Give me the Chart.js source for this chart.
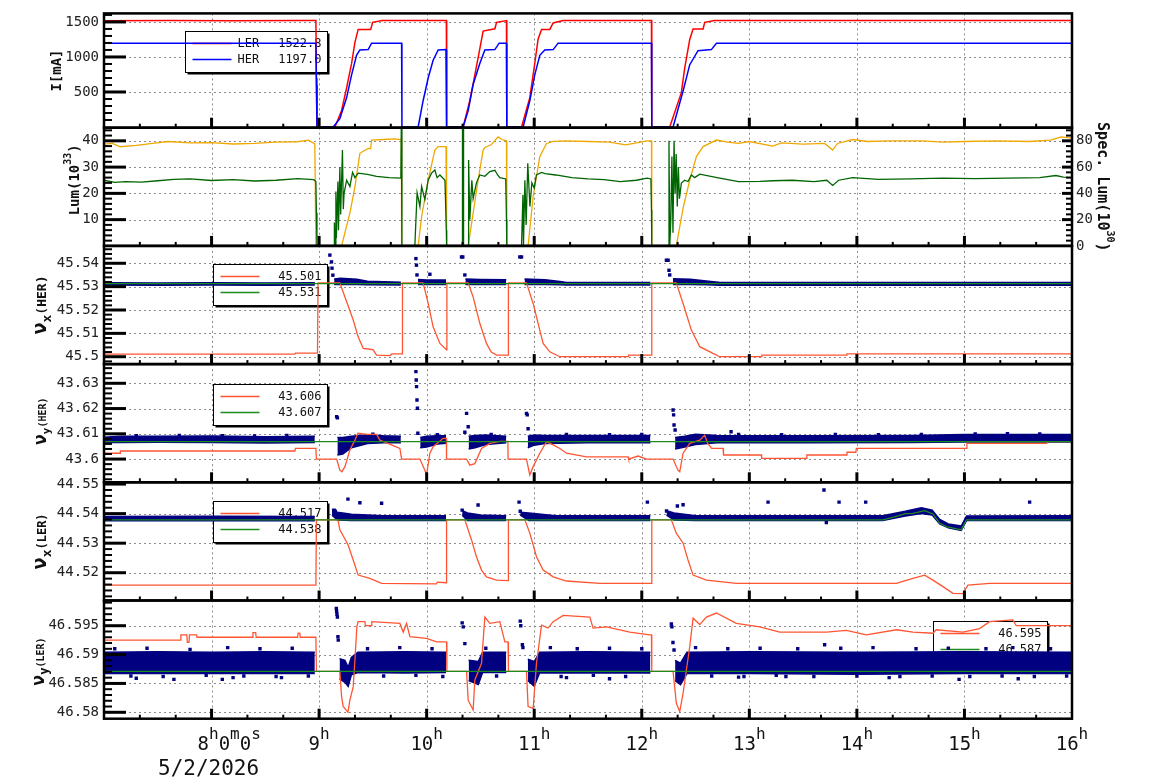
<!DOCTYPE html>
<html>
<head>
<meta charset="utf-8">
<title>Beam current, luminosity and tunes</title>
<script src="https://cdn.jsdelivr.net/npm/chart.js@4.4.1/dist/chart.umd.min.js"></script>
<style>
  html, body { margin: 0; padding: 0; background: #fff; }
  #page { position: relative; width: 1154px; height: 782px; overflow: hidden; }
  #page canvas { position: absolute; left: 0; top: 0; }
</style>
</head>
<body>
<div id="page"></div>
<script>
// ---------- data (time in hours of 5/2/2026) ----------
const spanT = [7, 16];
const timeTickLabels = ['8h0m0s', '9h', '10h', '11h', '12h', '13h', '14h', '15h', '16h'];
const timeTickHours = [8, 9, 10, 11, 12, 13, 14, 15, 16];
const dateLabel = '5/2/2026';

// beam current [mA]
const curTicks = [500, 1000, 1500];
const curLegend = ['1522.8', '1197.0'];
const lerT = [7.0, 7.6, 8.2, 8.8, 8.97, 8.975, 8.98, 9.147, 9.209, 9.256, 9.302, 9.333, 9.363, 9.479, 9.49, 9.497, 9.587, 10.183, 10.186, 10.339, 10.401, 10.448, 10.494, 10.525, 10.634, 10.650, 10.742, 10.745, 10.882, 10.959, 11.005, 11.036, 11.068, 11.145, 11.176, 11.269, 12.090, 12.093, 12.260, 12.368, 12.399, 12.446, 12.477, 12.570, 12.585, 12.679, 16.0];
const lerI = [1516, 1520, 1518, 1522, 1520, 700, 0, 0, 236, 560, 907, 1208, 1393, 1393, 1450, 1495, 1520, 1520, 0, 0, 375, 745, 1115, 1370, 1403, 1495, 1520, 0, 0, 420, 907, 1254, 1393, 1393, 1486, 1520, 1520, 0, 0, 490, 840, 1250, 1400, 1400, 1495, 1520, 1522];
const herT = [7.0, 8.97, 8.975, 8.98, 9.131, 9.193, 9.256, 9.302, 9.348, 9.379, 9.456, 9.488, 9.767, 9.770, 9.921, 9.967, 10.014, 10.060, 10.107, 10.180, 10.185, 10.339, 10.386, 10.432, 10.494, 10.541, 10.634, 10.674, 10.742, 10.745, 10.897, 10.959, 11.005, 11.052, 11.098, 11.176, 11.222, 12.090, 12.093, 12.291, 12.384, 12.446, 12.523, 12.647, 12.694, 16.0];
const herI = [1197, 1197, 600, 0, 0, 120, 420, 745, 1024, 1101, 1105, 1197, 1197, 0, 0, 375, 699, 954, 1101, 1105, 0, 0, 236, 607, 907, 1101, 1105, 1197, 1197, 0, 0, 375, 745, 1024, 1101, 1105, 1197, 1197, 0, 0, 515, 890, 1090, 1105, 1197, 1197];

// luminosity (10^33, left) and specific luminosity (10^30, right)
const lumTicks = [10, 20, 30, 40];
const specTicks = [0, 20, 40, 60, 80];
const lumT = [7.0, 7.1, 7.2, 7.35, 7.5, 7.65, 7.8, 8.0, 8.2, 8.4, 8.6, 8.8, 8.95, 8.97, 8.975, 8.98, 9.139, 9.142, 9.148, 9.156, 9.16, 9.175, 9.18, 9.193, 9.2, 9.217, 9.225, 9.232, 9.256, 9.286, 9.311, 9.333, 9.363, 9.45, 9.534, 9.65, 9.76, 9.765, 9.77, 9.89, 9.911, 9.937, 9.953, 9.983, 10.014, 10.045, 10.076, 10.097, 10.123, 10.170, 10.183, 10.186, 10.330, 10.333, 10.340, 10.343, 10.386, 10.39, 10.401, 10.42, 10.432, 10.463, 10.494, 10.541, 10.587, 10.634, 10.66, 10.68, 10.735, 10.742, 10.745, 10.882, 10.895, 10.90, 10.913, 10.925, 10.94, 10.96, 10.978, 11.0, 11.02, 11.068, 11.1, 11.2, 11.35, 11.5, 11.65, 11.8, 11.95, 12.05, 12.085, 12.09, 12.093, 12.25, 12.253, 12.26, 12.27, 12.28, 12.29, 12.30, 12.31, 12.32, 12.33, 12.34, 12.35, 12.368, 12.399, 12.43, 12.461, 12.492, 12.539, 12.7, 12.9, 13.1, 13.217, 13.4, 13.6, 13.72, 13.775, 13.83, 13.961, 14.2, 14.5, 14.8, 15.1, 15.4, 15.7, 15.85, 15.92, 16.0];
const lumV = [25.0, 24.2, 24.5, 24.3, 24.8, 25.3, 25.5, 24.9, 25.2, 24.7, 25.0, 25.6, 25.2, 24.5, 12.6, 0, 0, 8.9, 0, 20.7, 3, 24.5, 6, 30, 12, 36.5, 14, 20, 25, 22.6, 28, 26, 27.7, 27.2, 26.5, 26, 25.8, 50, 0, 0, 20.2, 15, 22.6, 17.6, 25, 27.7, 28.9, 26, 27, 25, 6, 0, 0, 50, 50, 0, 0, 32.7, 10, 25, 18, 24, 27, 26.5, 28.3, 28.8, 27, 26, 25.5, 10, 0, 0, 19.5, 0, 25, 8, 31.5, 15, 24, 22, 27, 28, 27.5, 27, 26, 25.5, 25.2, 24.5, 25, 25.8, 25.5, 13.8, 0, 0, 40, 0, 10, 34, 5, 40, 20, 35, 15, 30, 18, 23.9, 25, 24.5, 27, 26, 27.3, 26, 24.5, 24.6, 24.8, 25, 24.5, 25, 23, 25, 26, 25.3, 25.5, 25.8, 25.6, 25.8, 26, 26.8, 26.2, 26];
const specT = [7.0, 7.08, 7.15, 7.3, 7.45, 7.6, 7.8, 8.0, 8.2, 8.4, 8.6, 8.8, 8.9, 8.96, 8.97, 9.209, 9.286, 9.333, 9.379, 9.456, 9.479, 9.488, 9.6, 9.7, 9.765, 9.767, 9.921, 9.953, 10.014, 10.076, 10.107, 10.18, 10.185, 10.386, 10.432, 10.478, 10.525, 10.541, 10.6, 10.664, 10.70, 10.742, 10.745, 10.943, 10.990, 11.052, 11.114, 11.176, 11.3, 11.5, 11.7, 11.85, 11.95, 12.05, 12.09, 12.093, 12.321, 12.384, 12.446, 12.508, 12.570, 12.694, 12.8, 12.9, 13.0, 13.217, 13.3, 13.5, 13.7, 13.775, 13.82, 13.961, 14.1, 14.3, 14.6, 14.8, 15.0, 15.3, 15.6, 15.8, 15.9, 16.0];
const specV = [77.5, 78, 75.5, 76.5, 78, 79.5, 78.5, 78.6, 77.6, 78, 79, 79.3, 80.5, 77.6, 0, 0, 25, 45, 70.5, 74.3, 74, 80.6, 81, 81.5, 81, 0, 0, 22.4, 50, 73, 75.6, 75.6, 0, 0, 25, 50, 73, 75, 77, 83, 81, 80, 0, 0, 37.6, 68, 78, 79.6, 80, 79.5, 79, 77, 78.5, 80, 80, 0, 0, 28.8, 50, 68, 75.6, 80.6, 79, 78, 79.5, 76, 78.5, 77.5, 78, 73, 78, 81, 79.5, 80, 80, 79, 79.5, 80, 79.5, 80.5, 83, 82];

// horizontal tune HER
const hxTicks = [45.5, 45.51, 45.52, 45.53, 45.54];
const hxLegend = ['45.501', '45.531'];
const hxRef = [45.5313, 45.5313];
const hxT = [7.0, 8.775, 8.78, 8.985, 8.99, 9.193, 9.256, 9.317, 9.363, 9.41, 9.472, 9.503, 9.534, 9.658, 9.677, 9.772, 9.775, 9.967, 10.014, 10.060, 10.123, 10.185, 10.188, 10.386, 10.432, 10.494, 10.556, 10.60, 10.650, 10.757, 10.76, 10.928, 10.990, 11.036, 11.083, 11.145, 11.238, 11.873, 11.878, 12.090, 12.093, 12.321, 12.384, 12.461, 12.539, 12.662, 12.725, 13.112, 13.117, 13.903, 13.908, 16.0];
const hxV = [45.5011, 45.5011, 45.5015, 45.5015, 45.5316, 45.5316, 45.5235, 45.5157, 45.5085, 45.5036, 45.5032, 45.5029, 45.5007, 45.5005, 45.5012, 45.5012, 45.5316, 45.5316, 45.5228, 45.5128, 45.5057, 45.5029, 45.5316, 45.5316, 45.5256, 45.5143, 45.5057, 45.502, 45.5007, 45.5007, 45.5316, 45.5316, 45.5228, 45.5143, 45.5057, 45.5021, 45.5, 45.5, 45.5007, 45.5007, 45.5316, 45.5316, 45.5228, 45.5114, 45.5043, 45.5014, 45.5, 45.5, 45.5007, 45.5007, 45.5012, 45.5012];
const hxBandT = [7.0, 7.5, 8.0, 8.5, 8.96, 8.97, 9.14, 9.2, 9.35, 9.45, 9.76, 9.77, 9.92, 10.0, 10.18, 10.19, 10.36, 10.5, 10.74, 10.75, 10.91, 11.1, 11.24, 11.3, 12.08, 12.09, 12.29, 12.45, 12.6, 12.73, 13.5, 14.5, 16.0];
const hxBandLo = [45.5307, 45.5306, 45.5307, 45.5306, 45.5307, null, 45.5309, 45.5309, 45.5309, 45.5308, 45.5307, null, 45.5309, 45.5309, 45.5309, null, 45.5309, 45.5309, 45.5309, null, 45.5309, 45.5309, 45.5308, 45.5307, 45.5307, null, 45.5309, 45.5309, 45.5308, 45.5306, 45.5306, 45.5306, 45.5306];
const hxBandHi = [45.5317, 45.5316, 45.5317, 45.5316, 45.5317, null, 45.5333, 45.5336, 45.5332, 45.5323, 45.5319, null, 45.5331, 45.5328, 45.5328, null, 45.5333, 45.5331, 45.533, null, 45.5333, 45.533, 45.5322, 45.5318, 45.5318, null, 45.5334, 45.5332, 45.5324, 45.5318, 45.5318, 45.5318, 45.5318];
const hxOutT = [9.100, 9.115, 9.120, 9.128, 9.900, 9.905, 9.910, 10.030, 10.324, 10.336, 10.355, 10.866, 10.882, 12.229, 12.245, 12.253, 12.260];
const hxOutV = [45.5435, 45.5406, 45.5379, 45.5349, 45.542, 45.5392, 45.535, 45.5353, 45.5427, 45.5427, 45.535, 45.5427, 45.5427, 45.5413, 45.5413, 45.537, 45.535];

// vertical tune HER
const hyTicks = [43.6, 43.61, 43.62, 43.63];
const hyLegend = ['43.606', '43.607'];
const hyRef = [43.6069, 43.6069];
const hyT = [7.0, 7.149, 7.152, 8.775, 8.78, 8.97, 8.975, 9.163, 9.193, 9.212, 9.240, 9.286, 9.333, 9.361, 9.45, 9.534, 9.565, 9.65, 9.751, 9.767, 9.937, 9.983, 9.999, 10.030, 10.060, 10.153, 10.183, 10.185, 10.371, 10.401, 10.448, 10.510, 10.587, 10.680, 10.755, 10.757, 10.928, 10.959, 10.990, 11.052, 11.114, 11.176, 11.238, 11.300, 11.486, 11.873, 11.878, 11.966, 12.043, 12.291, 12.336, 12.353, 12.384, 12.446, 12.539, 12.585, 12.613, 12.650, 12.756, 12.76, 13.112, 13.115, 13.531, 13.535, 13.903, 13.908, 13.99, 13.995, 15.018, 15.023, 15.761, 15.766, 16.0];
const hyV = [43.6023, 43.6023, 43.6032, 43.6032, 43.6042, 43.6042, 43.6, 43.6, 43.5956, 43.595, 43.597, 43.6036, 43.6075, 43.6102, 43.6098, 43.6098, 43.6075, 43.606, 43.6042, 43.6, 43.6, 43.5956, 43.5937, 43.6023, 43.6049, 43.6082, 43.6082, 43.6, 43.6, 43.5976, 43.5982, 43.6042, 43.6062, 43.607, 43.607, 43.6, 43.6, 43.5937, 43.597, 43.6023, 43.6069, 43.6056, 43.6042, 43.6023, 43.6009, 43.6009, 43.6, 43.6012, 43.6, 43.6, 43.5956, 43.595, 43.6023, 43.6062, 43.6075, 43.6095, 43.6062, 43.6042, 43.6042, 43.6016, 43.6016, 43.6003, 43.6003, 43.6016, 43.6016, 43.6027, 43.6027, 43.6042, 43.6042, 43.6062, 43.6062, 43.6069, 43.6069];
const hyBandT = [7.0, 7.15, 7.5, 8.0, 8.5, 8.96, 8.97, 9.17, 9.22, 9.3, 9.45, 9.6, 9.76, 9.77, 9.94, 10.0, 10.1, 10.18, 10.19, 10.39, 10.45, 10.55, 10.74, 10.75, 10.94, 11.0, 11.1, 11.5, 12.08, 12.09, 12.31, 12.4, 12.5, 12.7, 13.5, 14.5, 15.0, 16.0];
const hyBandLo = [43.6066, 43.6066, 43.6067, 43.6066, 43.6064, 43.6066, null, 43.6016, 43.602, 43.6045, 43.6062, 43.6065, 43.6065, null, 43.6045, 43.6048, 43.606, 43.6063, null, 43.604, 43.6045, 43.6058, 43.6065, null, 43.6045, 43.6055, 43.6062, 43.6065, 43.6065, null, 43.604, 43.6048, 43.6058, 43.6065, 43.6065, 43.6066, 43.6068, 43.6068];
const hyBandHi = [43.6086, 43.609, 43.609, 43.6091, 43.6088, 43.609, null, 43.6085, 43.6085, 43.609, 43.6096, 43.6092, 43.609, null, 43.6085, 43.609, 43.6092, 43.6092, null, 43.609, 43.6093, 43.6095, 43.609, null, 43.609, 43.6095, 43.6093, 43.6093, 43.6093, null, 43.6085, 43.609, 43.6098, 43.6093, 43.6092, 43.6093, 43.6097, 43.6097];
const hyOutT = [9.163, 9.170, 9.900, 9.903, 9.906, 9.910, 9.914, 9.918, 10.355, 10.371, 10.386, 10.928, 10.935, 10.943, 12.291, 12.296, 12.300, 12.310, 12.830];
const hyOutV = [43.6168, 43.6163, 43.6346, 43.6313, 43.6287, 43.6234, 43.6201, 43.6102, 43.6106, 43.6181, 43.6128, 43.6181, 43.6175, 43.612, 43.6194, 43.6175, 43.6135, 43.6115, 43.6108];
const hyEdgeT = [7.3, 7.7, 8.1, 8.4, 8.7, 9.5, 10.1, 10.6, 11.3, 11.7, 12.0, 12.9, 13.3, 13.8, 14.2, 14.6, 15.1, 15.4, 15.7];
const hyEdgeV = [43.6093, 43.6094, 43.6093, 43.6092, 43.6094, 43.6098, 43.6096, 43.6097, 43.6097, 43.6096, 43.6097, 43.6097, 43.6096, 43.6097, 43.6096, 43.6097, 43.6099, 43.61, 43.6099];

// horizontal tune LER
const lxTicks = [44.52, 44.53, 44.54, 44.55];
const lxLegend = ['44.517', '44.538'];
const lxT = [7.0, 8.97, 8.975, 9.175, 9.193, 9.27, 9.317, 9.363, 9.472, 9.581, 10.09, 10.10, 10.18, 10.185, 10.355, 10.417, 10.463, 10.510, 10.556, 10.650, 10.757, 10.76, 10.913, 10.959, 11.021, 11.083, 11.176, 11.300, 11.610, 12.090, 12.093, 12.275, 12.321, 12.384, 12.430, 12.477, 12.601, 12.879, 14.367, 14.521, 14.630, 14.707, 14.800, 14.893, 14.986, 15.032, 15.234, 16.0];
const lxV = [44.5158, 44.5158, 44.5379, 44.5379, 44.5345, 44.5294, 44.5243, 44.5192, 44.5181, 44.5164, 44.5162, 44.5168, 44.5166, 44.5379, 44.5379, 44.5311, 44.5254, 44.5209, 44.5186, 44.5175, 44.5173, 44.5379, 44.5379, 44.5334, 44.5254, 44.5209, 44.5186, 44.5172, 44.5164, 44.5164, 44.5379, 44.5379, 44.5334, 44.53, 44.5243, 44.5192, 44.5175, 44.5164, 44.5164, 44.5181, 44.5192, 44.5175, 44.5153, 44.513, 44.5129, 44.5158, 44.5164, 44.5164];
const lxRefT = [7.0, 14.243, 14.35, 14.45, 14.521, 14.63, 14.707, 14.769, 14.831, 14.971, 15.018, 16.0];
const lxRef = [44.5379, 44.5379, 44.5389, 44.54, 44.5401, 44.541, 44.5399, 44.5368, 44.5356, 44.5345, 44.5379, 44.5379];
const lxBandT = [7.0, 8.0, 8.96, 8.97, 9.12, 9.17, 9.3, 9.6, 10.18, 10.19, 10.33, 10.38, 10.5, 10.74, 10.75, 10.87, 10.95, 11.2, 12.08, 12.09, 12.23, 12.3, 12.5, 14.24, 14.45, 14.6, 14.7, 14.77, 14.85, 14.97, 15.02, 16.0];
const lxBandLo = [44.5376, 44.5376, 44.5376, null, 44.5395, 44.5378, 44.5377, 44.5377, 44.5377, null, 44.5395, 44.5377, 44.5377, 44.5377, null, 44.5395, 44.5377, 44.5377, 44.5377, null, 44.5395, 44.5378, 44.5377, 44.5377, 44.5392, 44.54, 44.5395, 44.5365, 44.5352, 44.5343, 44.5377, 44.5377];
const lxBandHi = [44.539, 44.5391, 44.539, null, 44.5415, 44.5405, 44.5398, 44.5393, 44.5393, null, 44.541, 44.5402, 44.5395, 44.5393, null, 44.5405, 44.5402, 44.5393, 44.5393, null, 44.541, 44.5402, 44.5393, 44.5393, 44.5408, 44.542, 44.5412, 44.538, 44.5365, 44.5358, 44.5392, 44.5393];
const lxOutT = [9.140, 9.150, 9.268, 9.379, 9.581, 10.330, 10.478, 10.859, 10.870, 12.052, 12.230, 12.331, 12.384, 13.174, 13.694, 13.716, 13.834, 14.082, 15.606];
const lxOutV = [44.5412, 44.5408, 44.5449, 44.5437, 44.5435, 44.5412, 44.5429, 44.5439, 44.5408, 44.5439, 44.5409, 44.5426, 44.543, 44.5439, 44.548, 44.537, 44.5439, 44.5439, 44.5439];

// vertical tune LER
const lyTicks = [46.58, 46.585, 46.59, 46.595];
const lyLegend = ['46.595', '46.587'];
const lyRef = [46.5871, 46.5871];
const lyT = [7.0, 7.71, 7.715, 7.77, 7.775, 7.79, 7.795, 7.86, 7.865, 8.38, 8.385, 8.41, 8.415, 8.80, 8.805, 8.82, 8.825, 8.97, 8.975, 9.193, 9.209, 9.224, 9.268, 9.286, 9.317, 9.333, 9.351, 9.363, 9.426, 9.43, 9.488, 9.49, 9.751, 9.782, 9.813, 9.844, 9.999, 10.092, 10.185, 10.188, 10.371, 10.386, 10.432, 10.448, 10.510, 10.541, 10.587, 10.680, 10.727, 10.757, 10.76, 10.928, 10.943, 10.990, 11.021, 11.068, 11.129, 11.176, 11.269, 11.517, 11.547, 11.672, 11.888, 12.074, 12.090, 12.093, 12.291, 12.321, 12.353, 12.384, 12.446, 12.477, 12.539, 12.601, 12.694, 12.879, 13.097, 13.283, 13.716, 13.903, 14.088, 14.367, 14.521, 14.707, 14.738, 14.986, 15.141, 15.234, 15.450, 15.482, 16.0];
const lyV = [46.5925, 46.5925, 46.5934, 46.5934, 46.5921, 46.5921, 46.5934, 46.5934, 46.593, 46.593, 46.5938, 46.5938, 46.593, 46.593, 46.5937, 46.5937, 46.593, 46.593, 46.5871, 46.5871, 46.5827, 46.581, 46.58, 46.5821, 46.5844, 46.5891, 46.5948, 46.5957, 46.5957, 46.595, 46.595, 46.5957, 46.5954, 46.5939, 46.5954, 46.5931, 46.5928, 46.5922, 46.5922, 46.5871, 46.5871, 46.5821, 46.5804, 46.5856, 46.5885, 46.5965, 46.5954, 46.5957, 46.5922, 46.5922, 46.5871, 46.5871, 46.581, 46.5807, 46.5885, 46.5951, 46.5946, 46.5957, 46.5968, 46.5965, 46.5946, 46.5948, 46.5939, 46.5934, 46.5934, 46.5871, 46.5871, 46.5816, 46.5801, 46.5833, 46.5914, 46.5963, 46.5952, 46.5965, 46.5972, 46.5954, 46.5948, 46.5939, 46.5939, 46.5942, 46.5934, 46.5943, 46.5939, 46.5937, 46.5943, 46.5939, 46.5945, 46.5957, 46.596, 46.595, 46.595];
const lyBandT = [7.0, 7.5, 8.0, 8.5, 8.96, 8.97, 9.19, 9.24, 9.27, 9.3, 9.36, 9.8, 10.18, 10.19, 10.39, 10.48, 10.52, 10.74, 10.75, 10.94, 11.0, 11.05, 11.5, 12.08, 12.09, 12.31, 12.36, 12.42, 13.0, 14.0, 15.0, 16.0];
const lyBandLo = [46.5867, 46.5867, 46.5867, 46.5867, 46.5867, null, 46.5858, 46.5852, 46.5845, 46.5865, 46.5869, 46.5868, 46.5869, null, 46.5855, 46.5848, 46.5869, 46.5869, null, 46.5855, 46.5845, 46.5868, 46.5868, 46.5868, null, 46.5855, 46.5848, 46.5867, 46.5867, 46.5866, 46.5867, 46.5867];
const lyBandHi = [46.5904, 46.5905, 46.5904, 46.5905, 46.5904, null, 46.5893, 46.589, 46.5878, 46.5895, 46.5904, 46.5905, 46.5904, null, 46.589, 46.5888, 46.5904, 46.5904, null, 46.5892, 46.5888, 46.5904, 46.5905, 46.5904, null, 46.589, 46.5885, 46.5904, 46.5905, 46.5904, 46.5905, 46.5904];
const lyOutT = [9.160, 9.163, 9.166, 9.170, 9.175, 9.178, 10.330, 10.340, 10.355, 10.870, 10.875, 10.890, 10.895, 12.275, 12.280, 12.290, 12.300, 7.300, 7.650, 8.100, 8.200, 8.650, 11.300, 11.700, 12.900, 13.340, 13.700, 14.300, 14.950, 15.500];
const lyOutV = [46.598, 46.5975, 46.597, 46.5965, 46.5931, 46.5925, 46.5955, 46.5948, 46.5919, 46.5958, 46.595, 46.5917, 46.5912, 46.5953, 46.5948, 46.5921, 46.5908, 46.5859, 46.5857, 46.5857, 46.586, 46.586, 46.586, 46.5858, 46.5861, 46.5862, 46.5917, 46.586, 46.5857, 46.5858];
const lyEdgeT = [7.1, 7.25, 7.4, 7.55, 7.8, 7.95, 8.15, 8.3, 8.45, 8.6, 8.75, 8.9, 9.45, 9.6, 9.75, 9.9, 10.05, 10.15, 10.55, 10.65, 11.15, 11.25, 11.4, 11.55, 11.7, 11.85, 12.0, 12.5, 12.65, 12.8, 12.95, 13.1, 13.25, 13.45, 13.6, 13.85, 14.0, 14.15, 14.4, 14.55, 14.7, 14.85, 15.05, 15.2, 15.35, 15.45, 15.65, 15.8, 15.95];
const lyEdgeV = [46.591, 46.5863, 46.5911, 46.5862, 46.5909, 46.5864, 46.5912, 46.5863, 46.591, 46.5862, 46.5911, 46.5863, 46.591, 46.5863, 46.5912, 46.5864, 46.591, 46.5862, 46.5911, 46.5863, 46.5912, 46.5862, 46.591, 46.5864, 46.5911, 46.5862, 46.591, 46.5912, 46.5863, 46.591, 46.5862, 46.5911, 46.5864, 46.591, 46.5862, 46.5911, 46.5863, 46.5912, 46.5862, 46.591, 46.5863, 46.5911, 46.5862, 46.591, 46.5863, 46.5912, 46.5862, 46.591, 46.5863];

// ---------- styling / layout ----------
const MONO = '"DejaVu Sans Mono", "Liberation Mono", monospace';
const NAVY = '#000080', TOMATO = '#ff5533', TUNE_GREEN = '#1c8c1c';
const W = 1154, H = 782, TOP = 9.5, PANEL_H = 118.2, PLOT_L = 104, PLOT_R = 1072;

Chart.defaults.font.family = MONO;

const pts = (T, V) => T.map((t, i) => ({ x: t, y: V[i] }));
function lineDs(T, V, color, width, extra) {
  return Object.assign({
    data: pts(T, V), borderColor: color, backgroundColor: color, borderWidth: width,
    pointRadius: 0, fill: false, tension: 0, spanGaps: false, clip: 0
  }, extra || {});
}
function bandDs(T, lo, hi) {
  return [lineDs(T, hi, NAVY, 1.5, { fill: '+1' }), lineDs(T, lo, NAVY, 1.5)];
}
function dotDs(T, V) {
  return { data: pts(T, V), showLine: false, pointStyle: 'rect', pointRadius: 2.4,
    pointBackgroundColor: NAVY, pointBorderWidth: 0, clip: 2 };
}
const b = s => 'bold ' + s + 'px ' + MONO;

const panels = [
  { min: -10, max: 1622, ticks: curTicks, minor: 100,
    title: { cx: 56, dy: 0, parts: [['I[mA]', b(14), 5]] },
    datasets: [lineDs(herT, herI, '#0000ff', 1.5), lineDs(lerT, lerI, '#ff0000', 1.5)],
    legend: { dx: 81, dy: 18, w: 142, items: [['#ff0000', 'LER', curLegend[0]], ['#0000ff', 'HER', curLegend[1]]] } },
  { min: 0, max: 45, ticks: lumTicks, minor: 2,
    title: { cx: 74, dy: -7, parts: [['Lum(10', b(14), 5], ['33', b(10), -3], [')', b(14), 5]] },
    right: { min: 0, max: 90, ticks: specTicks, minor: 4,
             title: { cx: 1103, dy: 0, parts: [['Spec. Lum(10', b(15), 5], ['30', b(10), -4], [')', b(15), 5]] } },
    datasets: [lineDs(lumT, lumV, '#006400', 1.3, { yAxisID: 'y' }), lineDs(specT, specV, '#f0a800', 1.3, { yAxisID: 'y1' })] },
  { min: 45.49684, max: 45.54744, ticks: hxTicks, minor: 0.002,
    title: { cx: 41, dy: 0, parts: [['ν', b(20), 5], ['x', b(13), 10], ['(HER)', b(13), 5]] },
    datasets: [lineDs(spanT, hxRef, TUNE_GREEN, 1.3), lineDs(hxT, hxV, TOMATO, 1.3), ...bandDs(hxBandT, hxBandLo, hxBandHi), dotDs(hxOutT, hxOutV)],
    legend: { dx: 109, dy: 18, w: 114, items: [[TOMATO, '', hxLegend[0]], [TUNE_GREEN, '', hxLegend[1]]] } },
  { min: 43.5908, max: 43.6376, ticks: hyTicks, minor: 0.002,
    title: { cx: 41, dy: -2, parts: [['ν', b(18), 5], ['y', b(11), 9], ['(HER)', b(10), 5]] },
    datasets: [lineDs(spanT, hyRef, TUNE_GREEN, 1.3), lineDs(hyT, hyV, TOMATO, 1.3), ...bandDs(hyBandT, hyBandLo, hyBandHi), dotDs(hyOutT, hyOutV), dotDs(hyEdgeT, hyEdgeV)],
    legend: { dx: 109, dy: 20, w: 114, items: [[TOMATO, '', hyLegend[0]], [TUNE_GREEN, '', hyLegend[1]]] } },
  { min: 44.5106, max: 44.5506, ticks: lxTicks, minor: 0.002,
    title: { cx: 41, dy: 0, parts: [['ν', b(20), 5], ['x', b(13), 10], ['(LER)', b(12), 5]] },
    datasets: [lineDs(lxRefT, lxRef, TUNE_GREEN, 1.3), lineDs(lxT, lxV, TOMATO, 1.3), ...bandDs(lxBandT, lxBandLo, lxBandHi), dotDs(lxOutT, lxOutV)],
    legend: { dx: 109, dy: 19, w: 114, items: [[TOMATO, '', lxLegend[0]], [TUNE_GREEN, '', lxLegend[1]]] } },
  { min: 46.57889, max: 46.59937, ticks: lyTicks, minor: 0.001,
    title: { cx: 39, dy: 2, parts: [['ν', b(18), 5], ['y', b(12), 9], ['(LER)', b(10), 5]] },
    datasets: [lineDs(spanT, lyRef, TUNE_GREEN, 1.3), lineDs(lyT, lyV, TOMATO, 1.3), ...bandDs(lyBandT, lyBandLo, lyBandHi), dotDs(lyOutT, lyOutV), dotDs(lyEdgeT, lyEdgeV)],
    legend: { dx: 829, dy: 20, w: 114, items: [[TOMATO, '', lyLegend[0]], [TUNE_GREEN, '', lyLegend[1]]] } }
];

// ---------- drawing helpers ----------
function drawRotated(ctx, parts, cx, cy, angle) {
  ctx.save();
  ctx.translate(cx, cy); ctx.rotate(angle);
  ctx.fillStyle = '#111'; ctx.textAlign = 'left'; ctx.textBaseline = 'alphabetic';
  let total = 0;
  parts.forEach(p => { ctx.font = p[1]; total += ctx.measureText(p[0]).width; });
  let x = -total / 2;
  parts.forEach(p => { ctx.font = p[1]; ctx.fillText(p[0], x, p[2]); x += ctx.measureText(p[0]).width; });
  ctx.restore();
}

function drawLegend(ctx, a, lg) {
  const x = Math.round(a.left + lg.dx) + 0.5, y = Math.round(a.top + lg.dy) + 0.5, h = 41;
  ctx.save();
  ctx.fillStyle = '#000'; ctx.fillRect(x + 2, y + 2, lg.w, h);
  ctx.fillStyle = '#fff'; ctx.fillRect(x, y, lg.w, h);
  ctx.strokeStyle = '#000'; ctx.lineWidth = 1; ctx.strokeRect(x, y, lg.w, h);
  ctx.font = '12px ' + MONO; ctx.textBaseline = 'middle';
  lg.items.forEach((it, k) => {
    const ly = y + 12 + k * 16;
    ctx.strokeStyle = it[0]; ctx.lineWidth = 1.3;
    ctx.beginPath(); ctx.moveTo(x + 7, ly); ctx.lineTo(x + 46, ly); ctx.stroke();
    ctx.fillStyle = '#111';
    if (it[1]) { ctx.textAlign = 'left'; ctx.fillText(it[1], x + 52, ly); }
    ctx.textAlign = 'right'; ctx.fillText(it[2], x + lg.w - 6, ly);
  });
  ctx.restore();
}

function yTickMarks(ctx, s, majors, minor, x0, dir, lenMaj, lenMin, a) {
  const k0 = Math.ceil(s.min / minor - 1e-6), k1 = Math.floor(s.max / minor + 1e-6);
  for (let k = k0; k <= k1; k++) {
    const v = k * minor;
    const major = majors.some(m => Math.abs(m - v) < minor / 10);
    const py = s.getPixelForValue(v);
    if (py < a.top + 1 || py > a.bottom - 1) continue;
    ctx.lineWidth = major ? 3 : 2;
    ctx.beginPath(); ctx.moveTo(x0, py); ctx.lineTo(x0 + dir * (major ? lenMaj : lenMin), py); ctx.stroke();
  }
}

function drawTimeLabels(ctx, xs, a) {
  ctx.save();
  ctx.fillStyle = '#111'; ctx.textAlign = 'left'; ctx.textBaseline = 'alphabetic';
  const base = a.bottom + 31;
  timeTickLabels.forEach((lab, j) => {
    const parts = lab.match(/\d+|[a-z]+/g).map(s => /\d/.test(s) ? [s, '19px ' + MONO, 0] : [s, '16px ' + MONO, -11]);
    let total = 0;
    parts.forEach(p => { ctx.font = p[1]; total += ctx.measureText(p[0]).width; });
    const px = xs.getPixelForValue(timeTickHours[j]);
    let x = j === 0 ? px - 14 : px - total / 2;
    parts.forEach(p => { ctx.font = p[1]; ctx.fillText(p[0], x, base + p[2]); x += ctx.measureText(p[0]).width; });
  });
  ctx.font = '21px ' + MONO; ctx.textAlign = 'center';
  ctx.fillText(dateLabel, xs.getPixelForValue(timeTickHours[0]) - 3, a.bottom + 56);
  ctx.restore();
}

function makeDecor(p, i) {
  return {
    id: 'decor' + i,
    beforeDatasetsDraw(chart) {
      const { ctx, chartArea: a } = chart, xs = chart.scales.x, ys = chart.scales.y;
      ctx.save();
      ctx.strokeStyle = '#8c8c8c'; ctx.lineWidth = 1; ctx.setLineDash([2, 3]);
      ctx.beginPath();
      for (let h = 8; h <= 15; h++) {
        const px = Math.round(xs.getPixelForValue(h)) + 0.5;
        ctx.moveTo(px, a.top); ctx.lineTo(px, a.bottom);
      }
      p.ticks.forEach(v => {
        const py = Math.round(ys.getPixelForValue(v)) + 0.5;
        if (py > a.top + 3 && py < a.bottom - 3) { ctx.moveTo(a.left, py); ctx.lineTo(a.right, py); }
      });
      ctx.stroke();
      ctx.restore();
      if (p.legend) drawLegend(ctx, a, p.legend);
    },
    afterDatasetsDraw(chart) {
      const { ctx, chartArea: a } = chart, xs = chart.scales.x;
      ctx.save();
      ctx.strokeStyle = '#000';
      for (let k = 22; k < 48; k++) {
        const px = xs.getPixelForValue(k / 3), major = k % 3 === 0;
        ctx.lineWidth = major ? 3 : 2;
        ctx.beginPath(); ctx.moveTo(px, a.bottom); ctx.lineTo(px, a.bottom - (major ? 10 : 4)); ctx.stroke();
      }
      yTickMarks(ctx, chart.scales.y, p.ticks, p.minor, a.left, 1, 22, 8, a);
      if (p.right) yTickMarks(ctx, chart.scales.y1, p.right.ticks, p.right.minor, a.right, -1, 10, 6, a);
      ctx.lineWidth = 2.5;
      ctx.strokeRect(a.left, a.top, a.right - a.left, a.bottom - a.top);
      ctx.restore();
    },
    afterDraw(chart) {
      const { ctx, chartArea: a } = chart, mid = (a.top + a.bottom) / 2;
      drawRotated(ctx, p.title.parts, p.title.cx, mid + p.title.dy, -Math.PI / 2);
      if (p.right) drawRotated(ctx, p.right.title.parts, p.right.title.cx, mid + p.right.title.dy, Math.PI / 2);
      if (i === panels.length - 1) drawTimeLabels(ctx, chart.scales.x, a);
    }
  };
}

// ---------- build one chart per panel, stacked on the same page ----------
const page = document.getElementById('page');
panels.forEach((p, i) => {
  const top = TOP + i * PANEL_H, bottom = top + PANEL_H;
  const cv = document.createElement('canvas');
  cv.width = W; cv.height = H;
  page.appendChild(cv);
  const tickFont = { family: MONO, size: 14 };
  const scales = {
    x: { type: 'linear', min: 7, max: 16, grid: { display: false }, border: { display: false },
         ticks: { display: false }, afterFit: s => { s.height = 0; } },
    y: { type: 'linear', position: 'left', min: p.min, max: p.max,
         grid: { display: false, drawTicks: false }, border: { display: false },
         afterBuildTicks: s => { s.ticks = p.ticks.map(v => ({ value: v })); },
         ticks: { callback: v => String(v), font: tickFont, color: '#222', padding: 5 },
         afterFit: s => { s.width = PLOT_L; } }
  };
  if (p.right) {
    scales.y1 = { type: 'linear', position: 'right', min: p.right.min, max: p.right.max,
      grid: { display: false, drawTicks: false }, border: { display: false },
      afterBuildTicks: s => { s.ticks = p.right.ticks.map(v => ({ value: v })); },
      ticks: { callback: v => String(v), font: tickFont, color: '#222', padding: 4 },
      afterFit: s => { s.width = W - PLOT_R; } };
  }
  new Chart(cv, {
    type: 'line',
    data: { datasets: p.datasets },
    options: {
      responsive: false, animation: false, events: [],
      layout: { padding: { top: top, bottom: H - bottom, left: 0, right: p.right ? 0 : W - PLOT_R } },
      plugins: { legend: { display: false }, tooltip: { enabled: false } },
      scales: scales
    },
    plugins: [makeDecor(p, i)]
  });
});
</script>
</body>
</html>
